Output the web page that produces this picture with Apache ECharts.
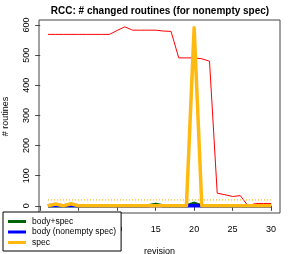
<!DOCTYPE html>
<html><head><meta charset="utf-8">
<script src="https://cdn.jsdelivr.net/npm/echarts@6/dist/echarts.min.js"></script>
<style>html,body{margin:0;padding:0;background:#fff}#c{width:294px;height:254px}</style>
</head><body><div id="c"></div>
<script>
const revisions = [1,2,3,4,5,6,7,8,9,10,11,12,13,14,15,16,17,18,19,20,21,22,23,24,25,26,27,28,29,30];
const totalRoutines = [569,569,569,569,569,569,569,569,569,582,594,583,583,583,583,580,579,491,491,491,488,480,42,37,31,34,0,8,8,8];
const bodySpec = [0,0,0,0,0,0,0,0,0,0,0,0,0,0,5,0,0,0,0,8,0,0,0,0,0,0,0,0,0,0];
const bodyNonempty = [0,2,0,2,0,0,0,0,0,0,0,0,0,0,0,0,0,0,0,1,0,0,0,0,0,0,0,0,0,0];
const spec = [0,6,0,7,0,0,0,0,0,0,0,0,0,0,0,0,0,0,0,591,0,0,0,0,0,0,0,0,0,0];
const specMean = 20;
const xTicks = [0,5,10,15,20,25,30];
const yTicks = [0,100,200,300,400,500,600];

const pts = (ys) => revisions.map((x,i)=>[x, ys[i]]);
const FONT = 'Liberation Sans';
const chart = echarts.init(document.getElementById('c'), null, {renderer:'canvas'});
chart.setOption({
  animation:false,
  backgroundColor:'#fff',
  graphic:[{type:'text', x:160, y:11, z:20,
    style:{text:'RCC: # changed routines (for nonempty spec)', fontFamily:FONT, fontSize:10, fontWeight:'bold',
      fill:'#000', align:'center', verticalAlign:'middle'}}],
  grid:{left:39, right:14, top:20, bottom:41, show:true, borderColor:'#444', borderWidth:1, backgroundColor:'transparent',
    containLabel:false, outerBoundsMode:'none'},
  xAxis:{type:'value', min:-0.16, max:31.16,
    name:'revision', nameLocation:'middle', nameGap:34,
    nameTextStyle:{fontFamily:FONT, fontSize:9, color:'#000'},
    axisLine:{show:false},
    axisTick:{show:true, customValues:xTicks, length:5, lineStyle:{color:'#444'}},
    axisLabel:{customValues:xTicks, margin:12, fontFamily:FONT, fontSize:9, color:'#000'},
    splitLine:{show:false}},
  yAxis:{type:'value', min:-23.7, max:616.7,
    name:'# routines', nameLocation:'middle', nameGap:28.5,
    nameTextStyle:{fontFamily:FONT, fontSize:9, color:'#000'},
    axisLine:{show:false},
    axisTick:{show:true, customValues:yTicks, length:5, lineStyle:{color:'#444'}},
    axisLabel:{customValues:yTicks, rotate:90, margin:8, fontFamily:FONT, fontSize:9, color:'#000'},
    splitLine:{show:false}},
  legend:{left:3, top:212, orient:'vertical', data:['body+spec','body (nonempty spec)','spec'],
    backgroundColor:'#fff', borderColor:'#000', borderWidth:1, borderRadius:0,
    padding:[5,5,4,5], itemGap:1.5, itemWidth:18, itemHeight:3, icon:'rect',
    textStyle:{fontFamily:FONT, fontSize:8.5, color:'#000', padding:[0,0,0,1]}, z:10},
  series:[
    {name:'total', type:'line', data:pts(totalRoutines), showSymbol:false, symbol:'none',
      lineStyle:{color:'#ff0000', width:1}, z:1},
    {name:'spec mean', type:'line', data:[[revisions[0],specMean],[revisions[revisions.length-1],specMean]],
      symbol:'none', lineStyle:{color:'#FFB90F', width:1.3, type:[1,2]}, z:2},
    {name:'body+spec', type:'line', data:pts(bodySpec), symbol:'none',
      itemStyle:{color:'#006400'}, lineStyle:{color:'#006400', width:3.5, join:'round'}, z:3},
    {name:'body (nonempty spec)', type:'line', data:pts(bodyNonempty), symbol:'none',
      itemStyle:{color:'#0000ff'}, lineStyle:{color:'#0000ff', width:3.5, join:'round'}, z:4},
    {name:'spec', type:'line', data:pts(spec), symbol:'none',
      itemStyle:{color:'#FFB90F'}, lineStyle:{color:'#FFB90F', width:3.5, join:'round'}, z:5}
  ]
});
</script></body></html>
